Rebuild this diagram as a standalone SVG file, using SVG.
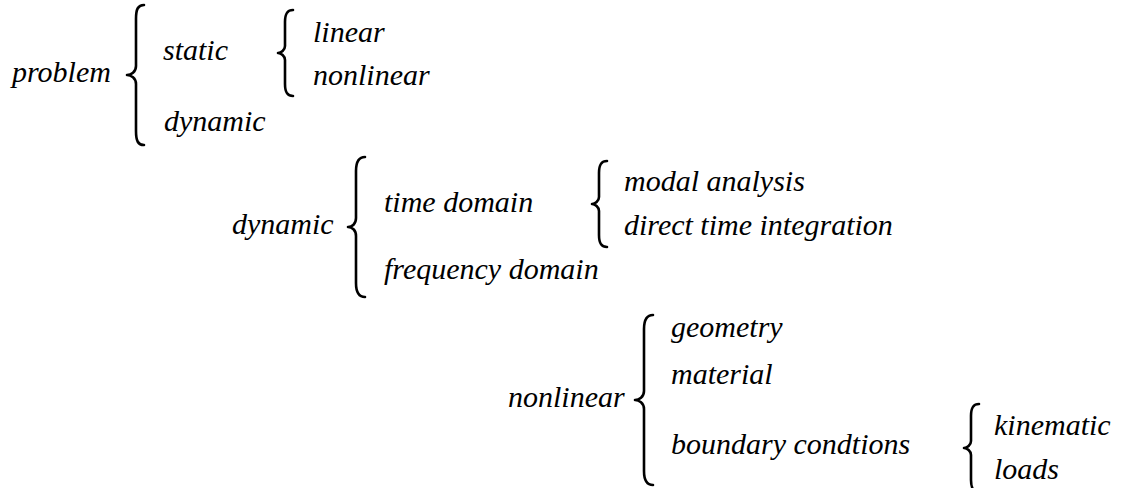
<svg xmlns="http://www.w3.org/2000/svg" width="1124" height="488" viewBox="0 0 1124 488">
<rect width="1124" height="488" fill="#fff"/>
<g id="connectors" fill="none" stroke="#000" stroke-width="2.6" stroke-linecap="round" stroke-linejoin="round">
<path d="M144,5 C138,5 136,9 136,19 L136,66 C136,72 131,75 127,75 C131,75 136,78 136,84 L136,131 C136,141 138,145 144,145"/>
<path d="M293,10 C287,10 285,14 285,22 L285,46 C285,50 281,53 278,53 C281,53 285,56 285,60 L285,84 C285,92 287,96 293,96"/>
<path d="M365,157 C359,157 356,161 356,171 L356,218 C356,224 352,227 348,227 C352,227 356,230 356,236 L356,283 C356,293 359,297 365,297"/>
<path d="M607,161 C601,161 599,165 599,173 L599,197 C599,201 595,204 592,204 C595,204 599,207 599,211 L599,235 C599,243 601,247 607,247"/>
<path d="M653,315 C647,315 644,319 644,329 L644,391 C644,397 639,400 635,400 C639,400 644,403 644,409 L644,471 C644,481 647,485 653,485"/>
<path d="M979,404 C973,404 971,408 971,416 L971,441 C971,445 967,448 964,448 C967,448 971,451 971,455 L971,480 C971,488 973,492 979,492"/>
</g>
<text id="problem" x="12" y="82" font-family="Liberation Serif" font-style="italic" font-size="30">problem</text>
<text id="static" x="163" y="60" font-family="Liberation Serif" font-style="italic" font-size="30">static</text>
<text id="dynamic1" x="164" y="131" font-family="Liberation Serif" font-style="italic" font-size="30">dynamic</text>
<text id="linear" x="313" y="42" font-family="Liberation Serif" font-style="italic" font-size="30">linear</text>
<text id="nonlinear1" x="313" y="85" font-family="Liberation Serif" font-style="italic" font-size="30">nonlinear</text>
<text id="dynamic2" x="232" y="234" font-family="Liberation Serif" font-style="italic" font-size="30">dynamic</text>
<text id="time-domain" x="384" y="212" font-family="Liberation Serif" font-style="italic" font-size="30">time domain</text>
<text id="frequency-domain" x="384" y="279" font-family="Liberation Serif" font-style="italic" font-size="30">frequency domain</text>
<text id="modal-analysis" x="624" y="191" font-family="Liberation Serif" font-style="italic" font-size="30">modal analysis</text>
<text id="direct-time-integration" x="624" y="235" font-family="Liberation Serif" font-style="italic" font-size="30">direct time integration</text>
<text id="nonlinear2" x="508" y="407" font-family="Liberation Serif" font-style="italic" font-size="30">nonlinear</text>
<text id="geometry" x="671" y="337" font-family="Liberation Serif" font-style="italic" font-size="30">geometry</text>
<text id="material" x="671" y="384" font-family="Liberation Serif" font-style="italic" font-size="30">material</text>
<text id="boundary-condtions" x="671" y="454" font-family="Liberation Serif" font-style="italic" font-size="30">boundary condtions</text>
<text id="kinematic" x="994" y="435" font-family="Liberation Serif" font-style="italic" font-size="30">kinematic</text>
<text id="loads" x="994" y="479" font-family="Liberation Serif" font-style="italic" font-size="30">loads</text>
</svg>
